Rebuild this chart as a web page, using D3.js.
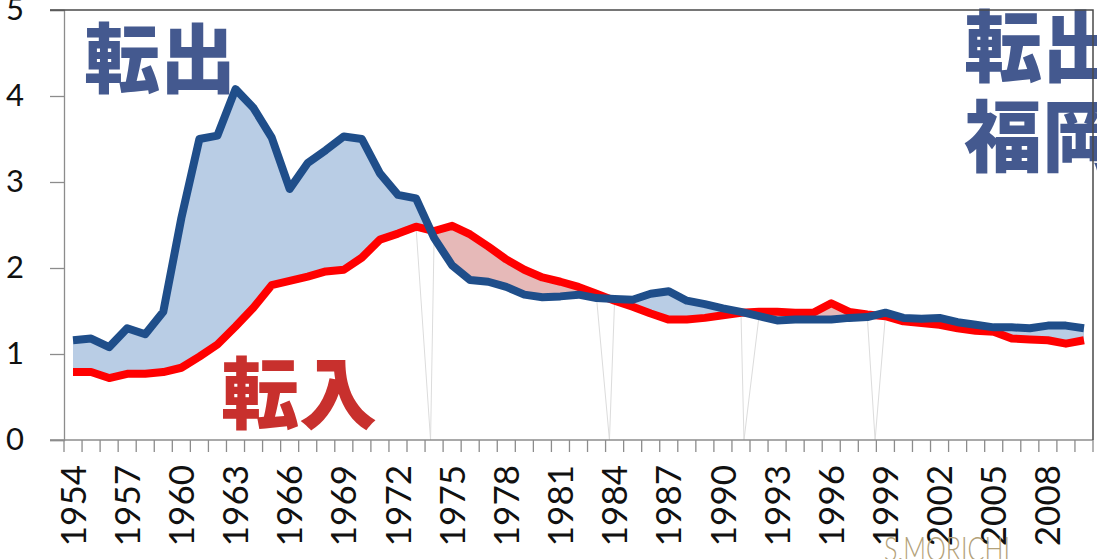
<!DOCTYPE html>
<html>
<head>
<meta charset="utf-8">
<script src="https://cdn.jsdelivr.net/npm/d3@7"></script>
<style>
  html, body { margin: 0; padding: 0; background: #ffffff; }
  svg { display: block; }
</style>
</head>
<body>
<svg id="chart" width="1097" height="559"></svg>
<script>
// Years on the category axis
const years = [
  1954, 1955, 1956, 1957, 1958, 1959, 1960, 1961, 1962, 1963,
  1964, 1965, 1966, 1967, 1968, 1969, 1970, 1971, 1972, 1973,
  1974, 1975, 1976, 1977, 1978, 1979, 1980, 1981, 1982, 1983,
  1984, 1985, 1986, 1987, 1988, 1989, 1990, 1991, 1992, 1993,
  1994, 1995, 1996, 1997, 1998, 1999, 2000, 2001, 2002, 2003,
  2004, 2005, 2006, 2007, 2008, 2009, 2010
];

// 転出 (out-migration)
const outflow = [
  1.16, 1.18, 1.08, 1.30, 1.23, 1.49, 2.58, 3.50, 3.54, 4.08,
  3.86, 3.52, 2.92, 3.22, 3.37, 3.53, 3.50, 3.10, 2.85, 2.81,
  2.35, 2.03, 1.86, 1.84, 1.78, 1.69, 1.66, 1.67, 1.69, 1.65,
  1.64, 1.63, 1.70, 1.73, 1.62, 1.58, 1.53, 1.49, 1.44, 1.39,
  1.40, 1.40, 1.40, 1.42, 1.43, 1.48, 1.42, 1.41, 1.42, 1.37,
  1.34, 1.31, 1.31, 1.30, 1.33, 1.33, 1.30
];

// 転入 (in-migration)
const inflow = [
  0.79, 0.79, 0.72, 0.77, 0.77, 0.79, 0.84, 0.97, 1.11, 1.32,
  1.54, 1.80, 1.85, 1.90, 1.96, 1.98, 2.12, 2.33, 2.40, 2.48,
  2.43, 2.49, 2.39, 2.25, 2.10, 1.98, 1.89, 1.84, 1.78, 1.70,
  1.62, 1.55, 1.47, 1.40, 1.40, 1.42, 1.45, 1.48, 1.49, 1.49,
  1.48, 1.48, 1.59, 1.49, 1.46, 1.44, 1.38, 1.36, 1.34, 1.30,
  1.27, 1.26, 1.18, 1.17, 1.16, 1.12, 1.16
];

// Value-axis ticks and the years that get a label
const yTicks = [0, 1, 2, 3, 4, 5];
const labelYears = [1954, 1957, 1960, 1963, 1966, 1969, 1972, 1975, 1978, 1981,
                    1984, 1987, 1990, 1993, 1996, 1999, 2002, 2005, 2008];

const rows = years.map((yr, i) => ({ year: yr, out: outflow[i], inn: inflow[i] }));

const svg = d3.select("#chart");
const plotL = 64, plotR = 1093, plotT = 10, plotB = 440;

const x = d3.scaleBand().domain(years).range([plotL, plotR]).padding(0);
const cx = yr => x(yr) + x.bandwidth() / 2;
const y = d3.scaleLinear().domain([0, 5]).range([plotB, plotT]);

const FONT = "Lato, 'Open Sans', 'Liberation Sans', sans-serif";
const CJK = "'Noto Sans CJK JP', 'Noto Sans CJK SC', sans-serif";

// ---- shaded gap between the two series ----
const defs = svg.append("defs");
defs.append("clipPath").attr("id", "aboveIn")
  .append("path")
  .attr("d", d3.area().x(d => cx(d.year)).y0(plotT).y1(d => y(d.inn))(rows));
defs.append("clipPath").attr("id", "aboveOut")
  .append("path")
  .attr("d", d3.area().x(d => cx(d.year)).y0(plotT).y1(d => y(d.out))(rows));

const between = d3.area()
  .x(d => cx(d.year))
  .y0(d => y(d.inn))
  .y1(d => y(d.out));

svg.append("path")
  .attr("d", between(rows))
  .attr("fill", "#b9cde5")
  .attr("clip-path", "url(#aboveIn)");
svg.append("path")
  .attr("d", between(rows))
  .attr("fill", "#e6b9b8")
  .attr("clip-path", "url(#aboveOut)");

// faint edge strokes that fall to the baseline where the series cross
const ghost = svg.append("g").attr("stroke", "#dcdcdc").attr("stroke-width", 1).attr("fill", "none");
for (let i = 0; i < rows.length - 1; i++) {
  const a = rows[i], b = rows[i + 1];
  const da = a.out - a.inn, db = b.out - b.inn;
  if (da * db < 0) {
    const t = da / (da - db);
    const xc = cx(a.year) + t * (cx(b.year) - cx(a.year));
    ghost.append("path").attr("d", d3.line()([
      [cx(a.year), y(Math.min(a.out, a.inn))], [xc, y(0)], [cx(b.year), y(Math.min(b.out, b.inn))]
    ]));
  }
}

// ---- axes ----
const yAxis = svg.append("g")
  .attr("transform", `translate(${plotL},0)`)
  .call(d3.axisLeft(y).tickValues(yTicks).tickFormat(d3.format("d")).tickSize(14).tickPadding(26));
yAxis.select(".domain").attr("stroke", "#8c8c8c").attr("stroke-width", 1.3);
yAxis.selectAll(".tick line").attr("stroke", "#8c8c8c").attr("stroke-width", 1.3);
yAxis.selectAll(".tick text")
  .attr("font-family", FONT).attr("font-size", 31).attr("fill", "#111");

// category axis: ticks fall on band boundaries
const xAxisG = svg.append("g");
xAxisG.append("line")
  .attr("x1", plotL - 14).attr("x2", plotR)
  .attr("y1", plotB).attr("y2", plotB)
  .attr("stroke", "#8c8c8c").attr("stroke-width", 1.3);
xAxisG.selectAll("line.tick")
  .data(years.concat([null]))
  .join("line").attr("class", "tick")
  .attr("x1", d => d === null ? plotR : x(d))
  .attr("x2", d => d === null ? plotR : x(d))
  .attr("y1", plotB).attr("y2", plotB + 12)
  .attr("stroke", "#8c8c8c").attr("stroke-width", 1.3);
xAxisG.selectAll("text")
  .data(labelYears)
  .join("text")
  .attr("transform", d => `translate(${cx(d)},${465}) rotate(-90)`)
  .attr("text-anchor", "end")
  .attr("dy", "0.36em")
  .attr("font-family", FONT).attr("font-size", 35).attr("fill", "#111")
  .text(d => d);

// ---- series lines ----
svg.append("path")
  .datum(rows)
  .attr("d", d3.line().x(d => cx(d.year)).y(d => y(d.inn)))
  .attr("fill", "none").attr("stroke", "#ff0000").attr("stroke-width", 8)
  .attr("stroke-linejoin", "round");
svg.append("path")
  .datum(rows)
  .attr("d", d3.line().x(d => cx(d.year)).y(d => y(d.out)))
  .attr("fill", "none").attr("stroke", "#1f4e8a").attr("stroke-width", 8)
  .attr("stroke-linejoin", "round");

// ---- annotations ----
svg.append("text").attr("x", 84).attr("y", 87)
  .attr("font-family", CJK).attr("font-weight", 900).attr("font-size", 76)
  .attr("fill", "#44598f").text("転出");
svg.append("text").attr("x", 221).attr("y", 423)
  .attr("font-family", CJK).attr("font-weight", 900).attr("font-size", 78)
  .attr("fill", "#c8302d").text("転入");
svg.append("text").attr("x", 964).attr("y", 76)
  .attr("font-family", CJK).attr("font-weight", 900).attr("font-size", 78)
  .attr("fill", "#44598f").text("転出");
svg.append("text").attr("x", 964).attr("y", 166)
  .attr("font-family", CJK).attr("font-weight", 900).attr("font-size", 78)
  .attr("fill", "#44598f").text("福岡");

// plot frame, top and right edges
svg.append("path")
  .attr("d", d3.line()([[plotL - 14, plotT], [plotR, plotT], [plotR, plotB]]))
  .attr("fill", "none").attr("stroke", "#4a4a4a").attr("stroke-width", 1.5);

// signature
svg.append("text").attr("x", 884).attr("y", 561)
  .attr("font-family", FONT).attr("font-weight", 300).attr("font-size", 34)
  .attr("textLength", 126).attr("lengthAdjust", "spacingAndGlyphs")
  .attr("fill", "#b3a179").text("S.MORICHI");
</script>
</body>
</html>
